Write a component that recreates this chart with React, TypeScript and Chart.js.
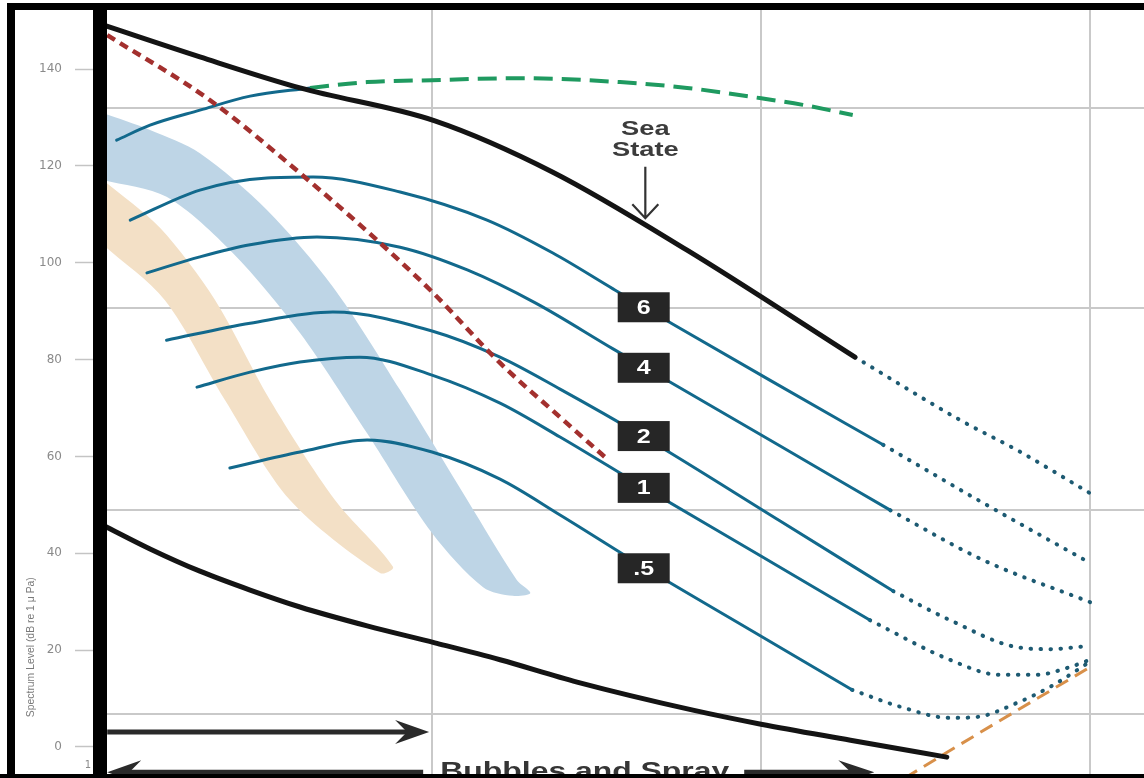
import React, { useEffect, useRef } from 'react';
import { Chart, registerables } from 'chart.js';

Chart.register(...registerables);

// ---- axes ----
const FREQ_MIN = 1;
const FREQ_MAX = 1459;
const DB_MIN = -6;
const DB_MAX = 152.6;
const dbTicks = [0, 20, 40, 60, 80, 100, 120, 140];
const freqGrid = [10, 100, 1000];
const freqFirstLabel = '1';
const dbGrid = [6.8, 48.9, 90.6, 131.9];
const yTitle = 'Spectrum Level (dB re 1 \u03bc Pa)';

// ---- limits ----
const upperHz = [1, 1.97, 3.97, 10.2, 23.3, 59.6, 193];
const upperDb = [149.1, 142.5, 136.1, 129.3, 118.7, 102.6, 80.5];
const upperExtHz = [193, 403, 600, 1000];
const upperExtDb = [80.5, 67.5, 61.3, 52.4];
const lowerHz = [1, 1.39, 1.97, 2.8, 3.97, 6.35, 10.2, 16.1, 27.6, 62.1, 100, 187, 367];
const lowerDb = [45.8, 40.9, 36.3, 32.4, 28.9, 25.0, 21.5, 18.0, 13.4, 7.6, 4.7, 1.4, -2.1];
const greenHz = [4.26, 6.35, 10, 18.5, 37.3, 59.6, 94.6, 134, 190];
const greenDb = [136.1, 137.3, 137.7, 138.1, 137.3, 136.1, 134.2, 132.6, 130.5];
const redHz = [1.03, 2.11, 3.97, 6.95, 10.1, 16.1, 24.5, 34];
const redDb = [147.0, 133.6, 118.5, 104.1, 93.7, 79.3, 68.1, 59.5];
const thermalHz = [274, 370, 1000];
const thermalDb = [-6.4, -1.0, 16.5];

// ---- sea state curves ----
const seaTopHz = [1.1, 1.39, 1.97, 2.8, 4.26];
const seaTopDb = [125.3, 128.4, 131.5, 134.4, 136.1];
const sea6Hz = [1.21, 1.97, 3.15, 4.35, 8.0, 14.7, 23.3, 35.5, 54.0, 106, 235];
const sea6Db = [108.8, 115.0, 117.5, 117.7, 114.6, 108.8, 102.0, 94.6, 87.3, 75.8, 62.4];
const sea6ExtHz = [235, 473, 1000];
const sea6ExtDb = [62.4, 50.4, 38.0];
const sea4Hz = [1.36, 1.97, 2.8, 4.47, 8.0, 12.8, 20.6, 35.5, 54.0, 114, 247];
const sea4Db = [97.9, 101.2, 103.7, 105.3, 103.2, 98.5, 91.7, 82.2, 75.0, 62.2, 48.9];
const sea4ExtHz = [247, 473, 1000];
const sea4ExtDb = [48.9, 38.6, 29.9];
const sea2Hz = [1.56, 2.8, 5.0, 10, 16.1, 24.5, 44.1, 114, 252];
const sea2Db = [84.0, 87.5, 89.8, 85.9, 80.5, 73.9, 64.0, 46.7, 32.2];
const sea2ExtHz = [252, 375, 600, 756, 1000];
const sea2ExtDb = [32.2, 26.2, 20.6, 20.2, 20.9];
const sea1Hz = [1.93, 2.8, 3.97, 6.04, 10, 16.1, 24.5, 43.8, 99, 214];
const sea1Db = [74.3, 77.4, 79.5, 80.5, 76.8, 71.0, 64.0, 53.7, 39.6, 26.2];
const sea1ExtHz = [214, 375, 532, 690, 851, 1000];
const sea1ExtDb = [26.2, 18.0, 14.9, 14.9, 16.3, 18.0];
const sea05Hz = [2.43, 3.97, 6.35, 10, 16.1, 24.5, 44.4, 92.6, 189];
const sea05Db = [57.6, 60.9, 63.4, 60.9, 55.3, 47.9, 37.0, 24.2, 11.8];
const sea05ExtHz = [189, 265, 375, 454, 600, 756, 1000];
const sea05ExtDb = [11.8, 8.3, 6.0, 6.2, 9.1, 12.4, 17.6];

// ---- shaded bands ----
const blueBandHz = [1, 1.39, 1.97, 3.15, 5.0, 8.0, 12.8, 18.1, 19.9, 17.6, 14.3, 10, 6.35, 3.97, 2.48, 1.56, 1];
const blueBandDb = [130.9, 127.4, 122.6, 110.9, 95.0, 73.7, 51.0, 34.5, 31.8, 31.2, 33.0, 44.2, 64.8, 85.5, 102.0, 113.6, 117.1];
const beigeBandHz = [1, 1.49, 2.19, 3.22, 5.07, 7.61, 6.95, 3.7, 2.35, 1.54, 1];
const beigeBandDb = [117.1, 107.2, 92.3, 71.6, 51.0, 37.2, 35.9, 51.0, 71.6, 92.3, 103.7];

// ---- annotations ----
const stateLabels = ['6', '4', '2', '1', '.5'];
const stateLabelHz = 44;
const stateLabelDb = [90.8, 78.3, 64.2, 53.5, 36.9];
const seaStateText = ['Sea', 'State'];
const seaStateHz = 44.5;
const seaStateTextDb = [126.4, 122.0];
const seaStateArrowDb = [119.8, 109.2];
const bubblesText = 'Bubbles and Spray';
const bubblesTextHz = [10.6, 80];
const bubblesTextDb = -6.6;
const topArrowHz = [1.03, 9.8];
const topArrowDb = 3.1;
const leftArrowHz = [9.4, 1.03];
const rightArrowHz = [88.9, 221];
const bottomArrowDb = -5.2;

const BLUE = '#12698c';
const DOT = '#1d5a72';
const BLACK = '#141414';
const DOTS = [0.5, 9.5];

function pts(hz: number[], db: number[]) {
  return hz.map((x, i) => ({ x, y: db[i] }));
}

function solid(hz: number[], db: number[], color: string, width: number, order: number) {
  return {
    type: 'line' as const,
    data: pts(hz, db),
    borderColor: color,
    borderWidth: width,
    pointRadius: 0,
    fill: false,
    cubicInterpolationMode: 'monotone' as const,
    borderCapStyle: 'round' as const,
    order,
  };
}

function dashed(hz: number[], db: number[], color: string, width: number, dash: number[], order: number, cap: 'round' | 'butt' = 'butt') {
  return {
    ...solid(hz, db, color, width, order),
    borderDash: dash,
    borderCapStyle: cap,
  };
}

function band(hz: number[], db: number[], color: string) {
  return {
    type: 'line' as const,
    data: pts(hz, db),
    borderColor: 'rgba(0,0,0,0)',
    borderWidth: 0,
    backgroundColor: color,
    pointRadius: 0,
    fill: 'shape' as const,
    tension: 0.3,
    order: 20,
  };
}

function stretchText(ctx: CanvasRenderingContext2D, text: string, x: number, y: number, font: string, sx: number, color: string, align: CanvasTextAlign = 'center', baseline: CanvasTextBaseline = 'alphabetic') {
  ctx.save();
  ctx.font = font;
  ctx.fillStyle = color;
  ctx.textAlign = align;
  ctx.textBaseline = baseline;
  ctx.translate(x, y);
  ctx.scale(sx, 1);
  ctx.fillText(text, 0, 0);
  ctx.restore();
}

function hArrow(ctx: CanvasRenderingContext2D, xTail: number, xHead: number, y: number, lw: number, headLen: number, headHalf: number, color: string) {
  const s = xHead > xTail ? 1 : -1;
  ctx.save();
  ctx.strokeStyle = color;
  ctx.fillStyle = color;
  ctx.lineWidth = lw;
  ctx.beginPath();
  ctx.moveTo(xTail, y);
  ctx.lineTo(xHead - s * headLen * 0.6, y);
  ctx.stroke();
  ctx.beginPath();
  ctx.moveTo(xHead, y);
  ctx.lineTo(xHead - s * headLen, y - headHalf);
  ctx.lineTo(xHead - s * headLen * 0.65, y);
  ctx.lineTo(xHead - s * headLen, y + headHalf);
  ctx.closePath();
  ctx.fill();
  ctx.restore();
}

const decor = {
  id: 'decor',
  afterDraw(chart: any) {
    const { ctx, chartArea } = chart;
    const xs = chart.scales.x;
    const ys = chart.scales.y;
    const W = chart.width;
    const H = chart.height;
    const px = (v: number) => xs.getPixelForValue(v);
    const py = (v: number) => ys.getPixelForValue(v);
    const sans = '"Liberation Sans", Arial, sans-serif';

    // sea state label boxes
    stateLabels.forEach((t, i) => {
      const cx = px(stateLabelHz);
      const cy = py(stateLabelDb[i]);
      ctx.fillStyle = '#262626';
      ctx.fillRect(cx - 26, cy - 15, 52, 30);
      stretchText(ctx, t, cx, cy + 1, `bold 20px ${sans}`, 1.25, '#ffffff', 'center', 'middle');
    });

    // Sea State text and arrow
    const sx = px(seaStateHz);
    seaStateText.forEach((t, i) => {
      stretchText(ctx, t, sx, py(seaStateTextDb[i]), `bold 21px ${sans}`, 1.3, '#3c3c3c');
    });
    const ay1 = py(seaStateArrowDb[0]);
    const ay2 = py(seaStateArrowDb[1]);
    ctx.save();
    ctx.strokeStyle = '#333';
    ctx.lineWidth = 2.2;
    ctx.beginPath();
    ctx.moveTo(sx, ay1);
    ctx.lineTo(sx, ay2);
    ctx.moveTo(sx - 13, ay2 - 14);
    ctx.lineTo(sx, ay2);
    ctx.lineTo(sx + 13, ay2 - 14);
    ctx.stroke();
    ctx.restore();

    // bottom arrows and text
    hArrow(ctx, px(topArrowHz[0]), px(topArrowHz[1]), py(topArrowDb), 5, 34, 12, '#2a2a2a');
    hArrow(ctx, px(leftArrowHz[0]), px(leftArrowHz[1]), py(bottomArrowDb), 5, 34, 12, '#2a2a2a');
    hArrow(ctx, px(rightArrowHz[0]), px(rightArrowHz[1]), py(bottomArrowDb), 5, 36, 12, '#2a2a2a');
    ctx.save();
    ctx.font = `bold 24px ${sans}`;
    const tw = ctx.measureText(bubblesText).width;
    ctx.restore();
    const bx1 = px(bubblesTextHz[0]);
    const bx2 = px(bubblesTextHz[1]);
    stretchText(ctx, bubblesText, bx1, py(bubblesTextDb), `bold 24px ${sans}`, (bx2 - bx1) / tw, '#353535', 'left');

    // first frequency label (partly hidden at the bottom edge)
    stretchText(ctx, freqFirstLabel, px(FREQ_MIN) - 15, H - 10, `10px "DejaVu Sans", sans-serif`, 1, '#8a8a8a');

    // y title
    ctx.save();
    ctx.font = `11px ${sans}`;
    const titleW = ctx.measureText(yTitle).width;
    ctx.translate(31, py(20.6));
    ctx.rotate(-Math.PI / 2);
    ctx.scale(140 / titleW, 1);
    ctx.fillStyle = '#7a7a7a';
    ctx.textAlign = 'center';
    ctx.textBaseline = 'middle';
    ctx.fillText(yTitle, 0, 0);
    ctx.restore();

    // frame
    ctx.save();
    ctx.fillStyle = '#000';
    ctx.fillRect(7, 4, 8, H - 4);
    ctx.fillRect(7, 3, W - 7, 7);
    ctx.fillRect(0, H - 4, W, 4);
    ctx.fillRect(chartArea.left - 10, 3, 14, H - 3);
    ctx.restore();
  },
};

export default function App() {
  const ref = useRef<HTMLCanvasElement>(null);

  useEffect(() => {
    document.body.style.margin = '0';
    const canvas = ref.current;
    if (!canvas) return;
    const datasets: any[] = [
      band(beigeBandHz, beigeBandDb, '#f3e0c6'),
      band(blueBandHz, blueBandDb, '#bed5e6'),
      solid(seaTopHz, seaTopDb, BLUE, 3, 6),
      solid(sea6Hz, sea6Db, BLUE, 3, 6),
      solid(sea4Hz, sea4Db, BLUE, 3, 6),
      solid(sea2Hz, sea2Db, BLUE, 3, 6),
      solid(sea1Hz, sea1Db, BLUE, 3, 6),
      solid(sea05Hz, sea05Db, BLUE, 3, 6),
      dashed(sea6ExtHz, sea6ExtDb, DOT, 4, DOTS, 6, 'round'),
      dashed(sea4ExtHz, sea4ExtDb, DOT, 4, DOTS, 6, 'round'),
      dashed(sea2ExtHz, sea2ExtDb, DOT, 4, DOTS, 6, 'round'),
      dashed(sea1ExtHz, sea1ExtDb, DOT, 4, DOTS, 6, 'round'),
      dashed(sea05ExtHz, sea05ExtDb, DOT, 4, DOTS, 6, 'round'),
      dashed(upperExtHz, upperExtDb, DOT, 4, DOTS, 6, 'round'),
      dashed(thermalHz, thermalDb, '#d8904a', 3, [14, 8], 7),
      dashed(greenHz, greenDb, '#1f9a60', 4, [19, 9], 4),
      solid(upperHz, upperDb, BLACK, 5, 3),
      solid(lowerHz, lowerDb, BLACK, 5, 3),
      dashed(redHz, redDb, '#a3302e', 4.5, [9, 6], 2),
    ];

    const chart = new Chart(canvas, {
      type: 'line',
      data: { datasets },
      plugins: [decor],
      options: {
        responsive: false,
        animation: false,
        events: [],
        layout: { padding: { top: 8, left: 0, right: 0, bottom: 0 } },
        plugins: { legend: { display: false }, tooltip: { enabled: false } },
        scales: {
          x: {
            type: 'logarithmic',
            min: FREQ_MIN,
            max: FREQ_MAX,
            afterBuildTicks: (s: any) => {
              s.ticks = freqGrid.map((v) => ({ value: v }));
            },
            afterFit: (s: any) => {
              s.height = 2;
              s.paddingLeft = 0;
              s.paddingRight = 0;
            },
            grid: { color: '#c9c9c9', lineWidth: 2, drawTicks: false },
            border: { display: false },
            ticks: { display: false },
          },
          y: {
            type: 'linear',
            position: 'left',
            min: DB_MIN,
            max: DB_MAX,
            afterBuildTicks: (s: any) => {
              s.ticks = dbTicks.map((v) => ({ value: v }));
            },
            afterFit: (s: any) => {
              s.width = 103;
              s.paddingTop = 0;
              s.paddingBottom = 0;
            },
            grid: {
              drawOnChartArea: false,
              drawTicks: true,
              tickLength: 28,
              tickColor: '#c4c4c4',
              tickWidth: 1.5,
              color: '#c4c4c4',
            },
            border: { display: false },
            ticks: {
              padding: 13,
              color: '#8a8a8a',
              font: { family: '"DejaVu Sans", sans-serif', size: 12 },
            },
          },
          yg: {
            type: 'linear',
            position: 'right',
            min: DB_MIN,
            max: DB_MAX,
            afterBuildTicks: (s: any) => {
              s.ticks = dbGrid.map((v) => ({ value: v }));
            },
            afterFit: (s: any) => {
              s.width = 0;
              s.paddingTop = 0;
              s.paddingBottom = 0;
            },
            grid: { color: '#c9c9c9', lineWidth: 2, drawTicks: false },
            border: { display: false },
            ticks: { display: false },
          },
        },
      } as any,
    });
    return () => chart.destroy();
  }, []);

  return (
    <div style={{ width: 1144, height: 778, background: '#fff' }}>
      <canvas ref={ref} width={1144} height={778} style={{ display: 'block' }} />
    </div>
  );
}
